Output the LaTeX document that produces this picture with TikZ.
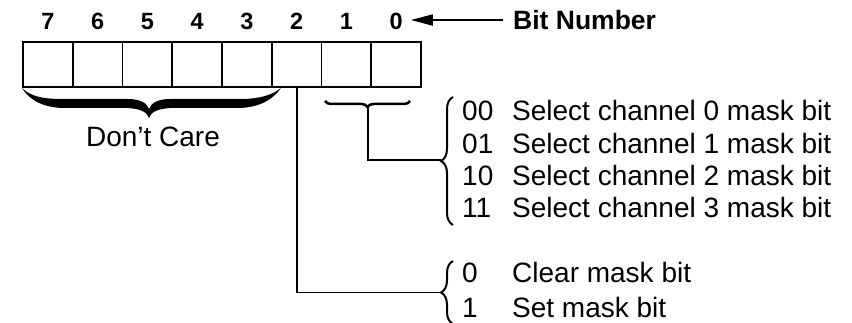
\documentclass[tikz,border=0pt]{standalone}
\usepackage{fontspec}
\setmainfont{Liberation Sans}
\usetikzlibrary{arrows.meta,decorations.pathreplacing}
\begin{document}
\begin{tikzpicture}[x=1pt,y=-1pt,
  cell/.style={draw, line width=1.8pt, minimum width=49.75pt, minimum height=45pt, inner sep=0pt, outer sep=0pt},
  bitnum/.style={font=\fontsize{23.5}{28}\selectfont\bfseries, inner sep=0pt, anchor=base},
  txt/.style={font=\fontsize{28}{32}\selectfont, inner sep=0pt, anchor=base west},
  conn/.style={line width=1.8pt},
  rbrace/.style={decorate, decoration={brace, amplitude=12pt}, line width=2pt},
  sbrace/.style={decorate, decoration={brace, amplitude=6pt, mirror}, line width=2.5pt},
]
\useasboundingbox (0,0) rectangle (852,323);
\foreach \b [count=\k from 0] in {7,6,5,4,3,2,1,0} {
  \node[cell] (c\b) at ({23+49.75*\k+24.875},64.5) {};
  \node[bitnum] (n\b) at ({23+49.75*\k+24.875},29.5) {\b};
}
\node[font=\fontsize{26.5}{30}\selectfont\bfseries, inner sep=0pt, anchor=base west] (bn) at (513,29.5) {Bit Number};
\draw[conn, -{Triangle[length=22pt,width=11pt]}, shorten <=10pt, shorten >=8pt] (bn.west) -- (n0.east |- bn.west);

% Don't Care brace
\fill (22,88) .. controls (28,98) and (40,107) .. (62,108) -- (128,108) .. controls (141,109) and (147,112) .. (149,118)
  .. controls (151,112) and (157,109) .. (170,108) -- (240,108) .. controls (262,107) and (274,98) .. (281,88)
  .. controls (272,95) and (260,99) .. (240,99) -- (170,99) .. controls (158,99) and (151,103) .. (149,109)
  .. controls (147,103) and (140,99) .. (128,99) -- (62,99) .. controls (42,99) and (30,96) .. (22,88) -- cycle;
\node[txt, anchor=base] (dc) at (153,147) {Don't Care};

% bits 1-0 brace
\coordinate (s1) at (325,101);
\coordinate (s0) at (410,101);
\draw[sbrace] (s1) -- (s0);
\coordinate (t10) at (368,107);
\coordinate (tipA) at (441,160);
\coordinate (tipB) at (441,292.5);
\draw[conn] (t10) |- (tipA);
\draw[conn] (c2.south) |- (tipB);

% right braces
\draw[rbrace] (453,225) -- (453,97);
\draw[rbrace] (453,324) -- (453,261);

\node[txt] (v00) at (462,121) {00};
\node[txt] (d00) at (512,121) {Select channel 0 mask bit};
\node[txt] (v01) at (462,153.5) {01};
\node[txt] (d01) at (512,153.5) {Select channel 1 mask bit};
\node[txt] (v10) at (462,186) {10};
\node[txt] (d10) at (512,186) {Select channel 2 mask bit};
\node[txt] (v11) at (462,218) {11};
\node[txt] (d11) at (512,218) {Select channel 3 mask bit};
\node[txt] (v0) at (462,283) {0};
\node[txt] (dc0) at (512,283) {Clear mask bit};
\node[txt] (v1) at (462,318) {1};
\node[txt] (dc1) at (512,318) {Set mask bit};
\end{tikzpicture}
\end{document}
